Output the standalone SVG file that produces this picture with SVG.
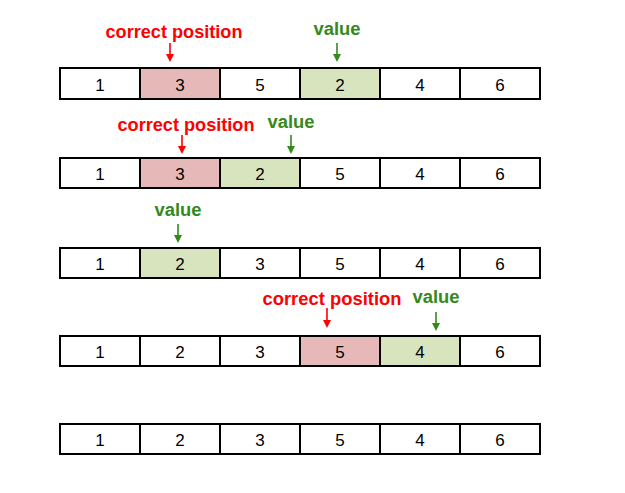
<svg xmlns="http://www.w3.org/2000/svg" width="625" height="493" viewBox="0 0 625 493">
<style>
.cell{fill:#fff;stroke:#000;stroke-width:2}
.pink{fill:#E6B9B8}
.grn{fill:#D7E4BD}
.num{font-family:"Liberation Sans",Arial,sans-serif;font-size:17px;text-anchor:middle;fill:#000}
.lbl{font-family:"Liberation Sans",Arial,sans-serif;font-size:18px;font-weight:bold;text-anchor:middle}
.red{fill:#FF0000}
.gr{fill:#338A1A}
.ar{stroke-width:1.6;fill:none}
</style>
<g id="row1">
<rect class="cell" x="60" y="68" width="80" height="31"/><rect class="cell pink" x="140" y="68" width="80" height="31"/><rect class="cell" x="220" y="68" width="80" height="31"/><rect class="cell grn" x="300" y="68" width="80" height="31"/><rect class="cell" x="380" y="68" width="80" height="31"/><rect class="cell" x="460" y="68" width="80" height="31"/>
<text class="num" x="100" y="91">1</text><text class="num" x="180" y="91">3</text><text class="num" x="260" y="91">5</text><text class="num" x="340" y="91">2</text><text class="num" x="420" y="91">4</text><text class="num" x="500" y="91">6</text>
</g>
<g id="row2">
<rect class="cell" x="60" y="158" width="80" height="30"/><rect class="cell pink" x="140" y="158" width="80" height="30"/><rect class="cell grn" x="220" y="158" width="80" height="30"/><rect class="cell" x="300" y="158" width="80" height="30"/><rect class="cell" x="380" y="158" width="80" height="30"/><rect class="cell" x="460" y="158" width="80" height="30"/>
<text class="num" x="100" y="180">1</text><text class="num" x="180" y="180">3</text><text class="num" x="260" y="180">2</text><text class="num" x="340" y="180">5</text><text class="num" x="420" y="180">4</text><text class="num" x="500" y="180">6</text>
</g>
<g id="row3">
<rect class="cell" x="60" y="248" width="80" height="30"/><rect class="cell grn" x="140" y="248" width="80" height="30"/><rect class="cell" x="220" y="248" width="80" height="30"/><rect class="cell" x="300" y="248" width="80" height="30"/><rect class="cell" x="380" y="248" width="80" height="30"/><rect class="cell" x="460" y="248" width="80" height="30"/>
<text class="num" x="100" y="270">1</text><text class="num" x="180" y="270">2</text><text class="num" x="260" y="270">3</text><text class="num" x="340" y="270">5</text><text class="num" x="420" y="270">4</text><text class="num" x="500" y="270">6</text>
</g>
<g id="row4">
<rect class="cell" x="60" y="336" width="80" height="30"/><rect class="cell" x="140" y="336" width="80" height="30"/><rect class="cell" x="220" y="336" width="80" height="30"/><rect class="cell pink" x="300" y="336" width="80" height="30"/><rect class="cell grn" x="380" y="336" width="80" height="30"/><rect class="cell" x="460" y="336" width="80" height="30"/>
<text class="num" x="100" y="358">1</text><text class="num" x="180" y="358">2</text><text class="num" x="260" y="358">3</text><text class="num" x="340" y="358">5</text><text class="num" x="420" y="358">4</text><text class="num" x="500" y="358">6</text>
</g>
<g id="row5">
<rect class="cell" x="60" y="424" width="80" height="30"/><rect class="cell" x="140" y="424" width="80" height="30"/><rect class="cell" x="220" y="424" width="80" height="30"/><rect class="cell" x="300" y="424" width="80" height="30"/><rect class="cell" x="380" y="424" width="80" height="30"/><rect class="cell" x="460" y="424" width="80" height="30"/>
<text class="num" x="100" y="446">1</text><text class="num" x="180" y="446">2</text><text class="num" x="260" y="446">3</text><text class="num" x="340" y="446">5</text><text class="num" x="420" y="446">4</text><text class="num" x="500" y="446">6</text>
</g>
<g id="labels">
<text class="lbl red" x="174" y="38" textLength="137" lengthAdjust="spacingAndGlyphs">correct position</text>
<text class="lbl gr" x="337" y="35" textLength="47" lengthAdjust="spacingAndGlyphs">value</text>
<text class="lbl red" x="186" y="131" textLength="137" lengthAdjust="spacingAndGlyphs">correct position</text>
<text class="lbl gr" x="291" y="128" textLength="47" lengthAdjust="spacingAndGlyphs">value</text>
<text class="lbl gr" x="178" y="216" textLength="47" lengthAdjust="spacingAndGlyphs">value</text>
<text class="lbl red" x="332" y="305" textLength="139" lengthAdjust="spacingAndGlyphs">correct position</text>
<text class="lbl gr" x="436" y="303" textLength="47" lengthAdjust="spacingAndGlyphs">value</text>
</g>
<g id="connectors">
<line x1="170" y1="43" x2="170" y2="55" stroke="#FF0000" class="ar"/><path d="M166,54 L174,54 L170,62 Z" fill="#FF0000"/>
<line x1="337" y1="43" x2="337" y2="55" stroke="#338A1A" class="ar"/><path d="M333,54 L341,54 L337,62 Z" fill="#338A1A"/>
<line x1="182" y1="135" x2="182" y2="147" stroke="#FF0000" class="ar"/><path d="M178,146 L186,146 L182,154 Z" fill="#FF0000"/>
<line x1="291" y1="135" x2="291" y2="147" stroke="#338A1A" class="ar"/><path d="M287,146 L295,146 L291,154 Z" fill="#338A1A"/>
<line x1="178" y1="224" x2="178" y2="236" stroke="#338A1A" class="ar"/><path d="M174,235 L182,235 L178,243 Z" fill="#338A1A"/>
<line x1="327" y1="308" x2="327" y2="321" stroke="#FF0000" class="ar"/><path d="M323,320 L331,320 L327,328 Z" fill="#FF0000"/>
<line x1="436" y1="312" x2="436" y2="324" stroke="#338A1A" class="ar"/><path d="M432,323 L440,323 L436,331 Z" fill="#338A1A"/>
</g>
</svg>
